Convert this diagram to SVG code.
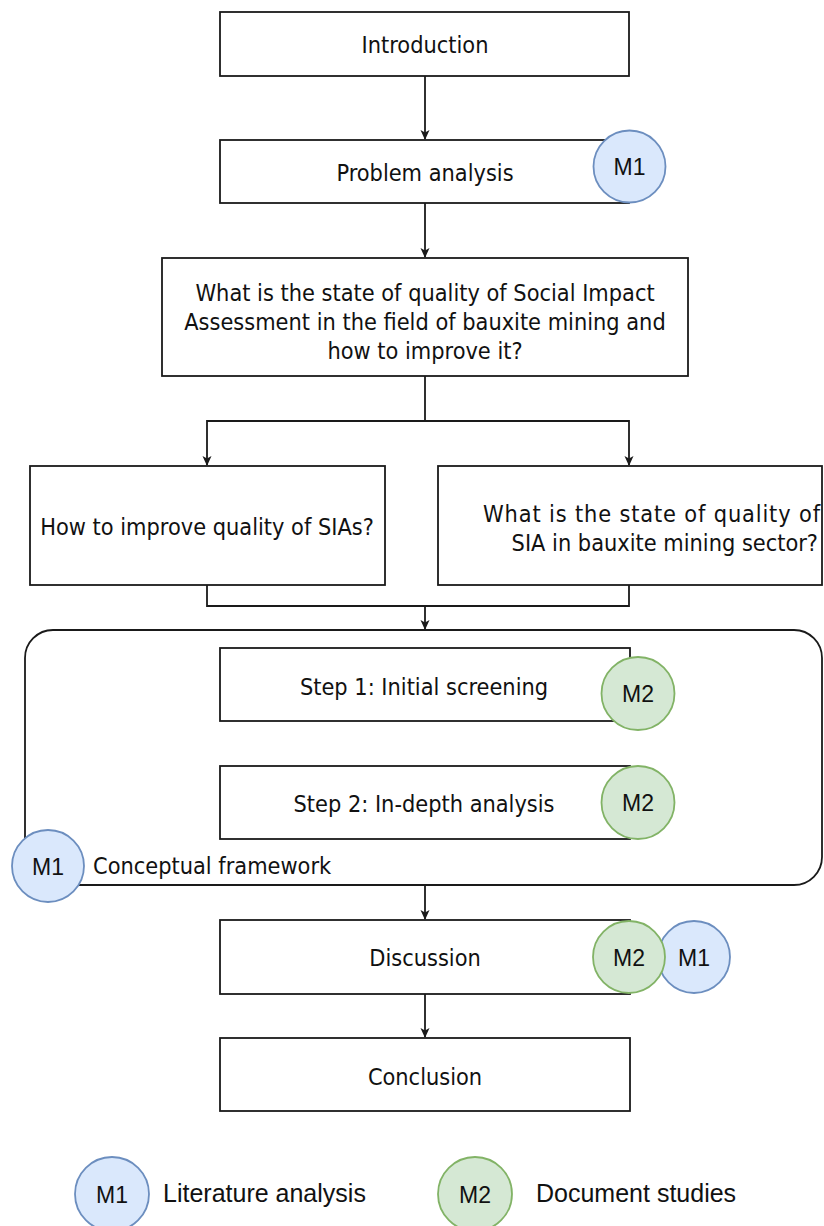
<svg xmlns="http://www.w3.org/2000/svg" width="824" height="1226" viewBox="0 0 824 1226">
<style>
.box{fill:#fff;stroke:#1a1a1a;stroke-width:1.8}
.t{font-family:'DejaVu Sans Condensed','DejaVu Sans',sans-serif;font-stretch:condensed;font-size:23.3px;fill:#111}
.c{text-anchor:middle}
.m1{fill:#dae8fc;stroke:#6c8ebf;stroke-width:1.8}
.m2{fill:#d5e8d4;stroke:#82b366;stroke-width:1.8}
.ml{font-family:'Liberation Sans',Arial,sans-serif;font-size:23px;fill:#111;text-anchor:middle}
.lg{font-family:'Liberation Sans',Arial,sans-serif;font-size:25px;fill:#111}
.ln{fill:none;stroke:#1a1a1a;stroke-width:1.8}
</style>
<defs>
<marker id="ah" markerWidth="10" markerHeight="10" refX="9" refY="5" orient="auto" markerUnits="userSpaceOnUse">
<path d="M0,0.5 L10,5 L0,9.5 L2.5,5 Z" fill="#1a1a1a"/>
</marker>
</defs>
<g id="connectors">
<path class="ln" d="M425,76 V139" marker-end="url(#ah)"/>
<path class="ln" d="M425,203 V257" marker-end="url(#ah)"/>
<path class="ln" d="M425,376 V421 H207 V465" marker-end="url(#ah)"/>
<path class="ln" d="M425,421 H629 V465" marker-end="url(#ah)"/>
<path class="ln" d="M207,585 V606 H629 V585"/>
<path class="ln" d="M425,606 V629" marker-end="url(#ah)"/>
<path class="ln" d="M425,721 V765" marker-end="url(#ah)"/>
<path class="ln" d="M425,885 V919" marker-end="url(#ah)"/>
<path class="ln" d="M425,994 V1037" marker-end="url(#ah)"/>
</g>
<g id="introduction">
<rect class="box" x="220" y="12" width="409" height="64"/>
<text class="t c" x="425" y="53">Introduction</text>
</g>
<g id="problem-analysis">
<rect class="box" x="220" y="140" width="409" height="63"/>
<text class="t c" x="425" y="181">Problem analysis</text>
<circle class="m1" cx="629.5" cy="166.5" r="36"/>
<text class="ml" x="629.5" y="175">M1</text>
</g>
<g id="main-question">
<rect class="box" x="162" y="258" width="526" height="118"/>
<text class="t c" x="425" y="301">What is the state of quality of Social Impact</text>
<text class="t c" x="425" y="330">Assessment in the field of bauxite mining and</text>
<text class="t c" x="425" y="359">how to improve it?</text>
</g>
<g id="sub-question-1">
<rect class="box" x="30" y="466" width="355" height="119"/>
<text class="t c" x="207" y="535">How to improve quality of SIAs?</text>
</g>
<g id="sub-question-2">
<rect class="box" x="438" y="466" width="384" height="119"/>
<text class="t" x="483" y="522" textLength="337" lengthAdjust="spacing">What is the state of quality of</text>
<text class="t" x="818" y="551" text-anchor="end">SIA in bauxite mining sector?</text>
</g>
<g id="conceptual-framework">
<rect class="box" x="25" y="630" width="797" height="255" rx="28" ry="28"/>
<text class="t" x="93" y="874">Conceptual framework</text>
</g>
<g id="step-1">
<rect class="box" x="220" y="648" width="410" height="73"/>
<text class="t c" x="424" y="695">Step 1: Initial screening</text>
<circle class="m2" cx="638" cy="693.5" r="36.5"/>
<text class="ml" x="638" y="702">M2</text>
</g>
<g id="step-2">
<rect class="box" x="220" y="766" width="410" height="73"/>
<text class="t c" x="424" y="812">Step 2: In-depth analysis</text>
<circle class="m2" cx="638" cy="802.5" r="36.5"/>
<text class="ml" x="638" y="811">M2</text>
</g>
<g id="framework-m1">
<circle class="m1" cx="48" cy="866" r="36"/>
<text class="ml" x="48" y="874.5">M1</text>
</g>
<g id="discussion">
<rect class="box" x="220" y="920" width="410" height="74"/>
<text class="t c" x="425" y="966">Discussion</text>
<circle class="m1" cx="694" cy="957" r="36"/>
<text class="ml" x="694" y="965.5">M1</text>
<circle class="m2" cx="629" cy="957" r="36"/>
<text class="ml" x="629" y="965.5">M2</text>
</g>
<g id="conclusion">
<rect class="box" x="220" y="1038" width="410" height="73"/>
<text class="t c" x="425" y="1085">Conclusion</text>
</g>
<g id="legend-m1">
<circle class="m1" cx="112" cy="1194" r="37"/>
<text class="ml" x="112" y="1202.5">M1</text>
<text class="lg" x="163" y="1202">Literature analysis</text>
</g>
<g id="legend-m2">
<circle class="m2" cx="475" cy="1194" r="37"/>
<text class="ml" x="475" y="1202.5">M2</text>
<text class="lg" x="536" y="1202">Document studies</text>
</g>
</svg>
